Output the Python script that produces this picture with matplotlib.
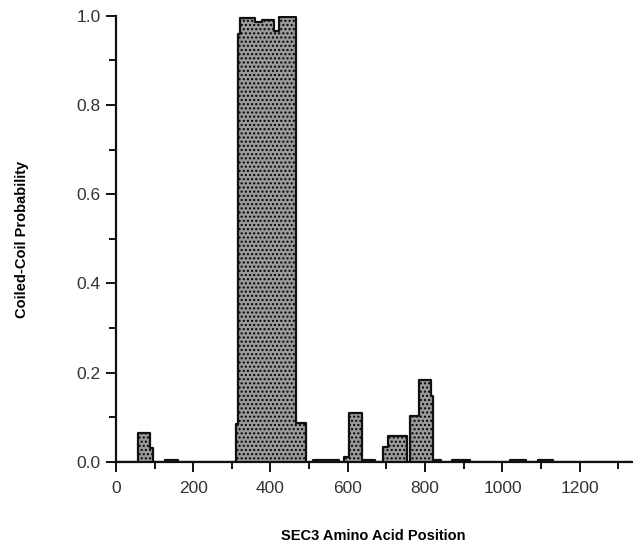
import matplotlib.pyplot as plt
import numpy as np

plt.rcParams['font.family'] = ['Liberation Sans', 'DejaVu Sans']

seg_start = [0, 58, 88, 95, 128, 160, 310, 316, 321, 360, 378, 409, 421, 465,
             492, 510, 576, 590, 602, 636, 670, 691, 705, 752, 760, 783, 814,
             820, 840, 870, 915, 1020, 1062, 1092, 1132]
seg_prob = [0, 0.065, 0.03, 0, 0.004, 0, 0.085, 0.96, 0.995, 0.985, 0.99, 0.965,
            0.997, 0.088, 0, 0.004, 0, 0.01, 0.11, 0.005, 0, 0.033, 0.058, 0,
            0.103, 0.183, 0.148, 0.005, 0, 0.004, 0, 0.004, 0, 0.004, 0]
seq_len = 1336

x = np.array(seg_start + [seq_len])
y = np.array(seg_prob + [seg_prob[-1]])

fig = plt.figure(figsize=(6.33, 5.44), dpi=100)
ax = fig.add_axes([0.183, 0.151, 0.816, 0.82])

ax.fill_between(x, y, step='post', facecolor='#9a9a9a', edgecolor='none', hatch='....')
ax.step(x, y, where='post', color='#111111', lw=1.6)

ax.set_xlim(0, seq_len)
ax.set_ylim(0, 1.0)
ax.set_xticks(np.arange(0, 1201, 200))
ax.set_xticks(np.arange(100, 1301, 200), minor=True)
ax.set_yticks(np.arange(0, 1.01, 0.2))
ax.set_yticks(np.arange(0.1, 1.0, 0.2), minor=True)
ax.set_yticklabels([f'{v:.1f}' for v in np.arange(0, 1.01, 0.2)])

for s in ['top', 'right']:
    ax.spines[s].set_visible(False)
for s in ['left', 'bottom']:
    ax.spines[s].set_linewidth(1.6)
    ax.spines[s].set_color('#111111')

ax.tick_params(which='major', direction='out', length=7, width=1.4, labelsize=12.5,
               colors='#111111', labelcolor='#333333', pad=4)
ax.tick_params(which='minor', direction='out', length=5, width=1.4, colors='#111111')
ax.tick_params(axis='x', pad=7)

fig.text(0.59, 0.002, 'SEC3 Amino Acid Position', ha='center', va='bottom',
         fontsize=10.5, fontweight='bold')
fig.text(0.035, 0.56, 'Coiled-Coil Probability', ha='center', va='center',
         rotation=90, fontsize=10.5, fontweight='bold')

fig.savefig('out.png', dpi=100, facecolor='white')
